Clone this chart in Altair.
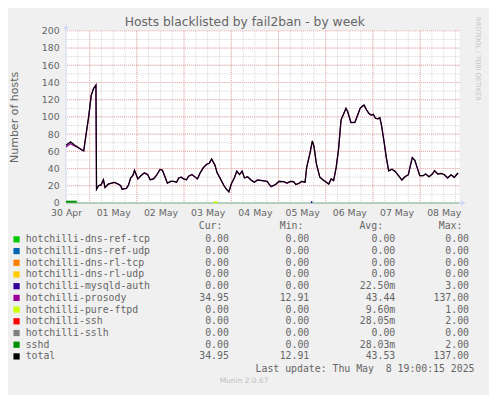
import altair as alt
import pandas as pd

# ---- data (hours since 30 Apr 00:00) ----
hours = [12, 14.3, 16, 18.5, 20.5, 21, 22.2, 23.5, 24.8, 26, 27.2, 27.5, 28.5, 29.8, 31, 31.8,
         33.5, 35.2, 36.5, 38.5, 39.8, 40.5, 42.7, 43.8, 44.8, 46, 46.8, 48.5, 50.2, 51.8, 53.5,
         54.8, 56.5, 58.2, 59.8, 61, 62.2, 63.5, 65.2, 66.8, 68.2, 69.3, 70.5, 71.8, 73.2, 74.3,
         76, 77.7, 78.8, 80.2, 81.8, 83.5, 84.8, 86, 87.7, 88.8, 90.5, 92.3, 93.5, 94.8, 96, 97.7,
         98.8, 100.2, 101.5, 102.7, 104.3, 106, 107.7, 109.3, 111.8, 114.3, 115.2, 116.3, 118.5,
         120.2, 122.7, 124.3, 126, 127.7, 128.8, 130.5, 131.8, 133.5, 134.3, 136, 137.2, 138,
         139.3, 141, 142.7, 144.3, 145.5, 146.8, 148, 149.3, 150.5, 151.8, 153.2, 154.3, 155.2,
         156.8, 158.8, 160.2, 161.5, 162.7, 163.5, 164.8, 166, 167.2, 168.2, 169.3, 170.5, 171.5,
         172.3, 173.5, 174.8, 176, 177.7, 179.3, 181, 182.7, 184.3, 186, 186.8, 188, 189.3, 190.5,
         191.8, 193.5, 194.8, 196.5, 198.2, 199.3, 201, 202.7, 204.3, 206, 207.7, 209.3, 210.5, 211.3]
total = [67, 71, 68, 64, 61, 60.5, 80, 100, 125, 133, 137, 16, 20, 21, 27, 18,
         22, 23, 24, 22, 20, 16, 17, 21, 29, 32, 38, 28, 32, 35, 33,
         27, 28, 33, 39, 38, 31, 23, 25, 25, 24, 29, 30, 28, 27, 31,
         33, 30, 28, 35, 41, 45, 46, 51, 44, 35, 28, 20, 16, 13, 22, 30,
         37, 33, 37, 29, 30.5, 26.7, 24, 26.7, 26, 25, 22, 19, 21.4,
         25, 24.8, 23, 25, 24.8, 21.4, 23, 25, 24, 41, 58, 72, 66,
         45, 30, 26.7, 24, 22, 28, 26, 41, 62, 96.6, 104, 110, 106,
         93.5, 93.5, 102, 110, 112.6, 113.7, 108, 104, 102, 103, 98.5, 97.7, 99,
         91, 73.7, 52.7, 37.4, 39.3, 36.6, 31.7, 26.7, 30.5, 32.8, 41, 52.7, 49.6, 41,
         31.7, 31.7, 33.6, 30.5, 33.6, 37.4, 33.6, 34.4, 32.8, 29, 32.8, 29.8, 32.8, 35]
prosody = [65, 69, 66.5] + total[3:]

sshd_h, sshd_v = [12, 17.5], [1.5, 1.5]
ftpd_h, ftpd_v = [87, 89], [0.8, 0.8]
mysql_h, mysql_v = [136.5, 137.2], [1, 1]

day_labels = ["30 Apr", "01 May", "02 May", "03 May", "04 May", "05 May", "06 May", "07 May", "08 May"]

names = ["hotchilli-dns-ref-tcp", "hotchilli-dns-ref-udp", "hotchilli-dns-rl-tcp", "hotchilli-dns-rl-udp",
         "hotchilli-mysqld-auth", "hotchilli-prosody", "hotchilli-pure-ftpd", "hotchilli-ssh",
         "hotchilli-sslh", "sshd", "total"]
colors = ["#00CC00", "#0066B3", "#FF8000", "#FFCC00", "#330099", "#990099", "#CCFF00", "#FF0000",
          "#808080", "#008F00", "#000000"]
cur = ["0.00", "0.00", "0.00", "0.00", "0.00", "34.95", "0.00", "0.00", "0.00", "0.00", "34.95"]
mins = ["0.00", "0.00", "0.00", "0.00", "0.00", "12.91", "0.00", "0.00", "0.00", "0.00", "12.91"]
avgs = ["0.00", "0.00", "0.00", "0.00", "22.50m", "43.44", "9.60m", "28.05m", "0.00", "28.03m", "43.53"]
maxs = ["0.00", "0.00", "0.00", "0.00", "3.00", "137.00", "1.00", "2.00", "0.00", "2.00", "137.00"]

# ---- scales ----
W, H = 400, 175
xs = alt.Scale(domain=[12, 212], nice=False, zero=False)
ys = alt.Scale(domain=[0, 200], nice=False, zero=False)
FONT = "DejaVu Sans"
MONO = "DejaVu Sans Mono"
TXT = "#666666"

grid_minor_y = pd.DataFrame({"v": list(range(10, 200, 10))})
grid_major_y = pd.DataFrame({"v": list(range(20, 201, 20))})
grid_minor_x = pd.DataFrame({"h": list(range(18, 212, 6))})
grid_major_x = pd.DataFrame({"h": list(range(24, 212, 24))})

gmy = alt.Chart(grid_minor_y).mark_rule(color="#d4d4d4", strokeDash=[1, 1], strokeWidth=1).encode(
    y=alt.Y("v:Q", scale=ys, axis=None))
gmx = alt.Chart(grid_minor_x).mark_rule(color="#d4d4d4", strokeDash=[1, 1], strokeWidth=1).encode(
    x=alt.X("h:Q", scale=xs, axis=None))
gMy = alt.Chart(grid_major_y).mark_rule(color="#f0a8a8", strokeDash=[1, 1], strokeWidth=1).encode(
    y=alt.Y("v:Q", scale=ys, axis=None))
gMx = alt.Chart(grid_major_x).mark_rule(color="#f0a8a8", strokeDash=[1, 1], strokeWidth=1).encode(
    x=alt.X("h:Q", scale=xs, axis=None))

label_expr = "[" + ",".join("'%s'" % d for d in day_labels) + "][round((datum.value-12)/24)]"

df_total = pd.DataFrame({"h": hours, "v": total})
df_pros = pd.DataFrame({"h": hours, "v": prosody})

x_axis = alt.Axis(values=[12 + 24 * i for i in range(9)], labelExpr=label_expr, grid=False, ticks=False,
                  domain=False, labelFont=FONT, labelFontSize=9.5, labelColor=TXT, labelPadding=5,
                  title=None, labelFlush=False, labelOverlap=False)
y_axis = alt.Axis(values=list(range(0, 201, 20)), grid=False, ticks=False, domain=False,
                  labelFont=FONT, labelFontSize=9.5, labelColor=TXT, labelPadding=7, labelOverlap=False,
                  title="Number of hosts", titleFont=FONT, titleFontSize=11.2, titleFontWeight="normal",
                  titleColor=TXT, titleX=-52, titleY=87.5, titleAlign="center", titleBaseline="middle",
                  titleAngle=-90)

one = pd.DataFrame({"a": [0]})
axis_line_y = alt.Chart(one).mark_rule(color="#CFD6F8", strokeWidth=1).encode(
    x=alt.value(0), y=alt.value(H), y2=alt.value(-4))
arrow_y = alt.Chart(one).mark_point(shape="triangle-up", filled=True, color="#CFD6F8",
                                    size=28, opacity=1).encode(x=alt.value(0), y=alt.value(-4))
axis_line_x = alt.Chart(one).mark_rule(color="#CFD6F8", strokeWidth=1).encode(
    x=alt.value(0), x2=alt.value(W + 4), y=alt.value(H))
arrow_x = alt.Chart(one).mark_point(shape="triangle-right", filled=True, color="#CFD6F8",
                                    size=28, opacity=1).encode(x=alt.value(W + 4), y=alt.value(H))

zero_line = alt.Chart(pd.DataFrame({"v": [0]})).mark_rule(color="#84b884", strokeWidth=1.2).encode(
    y=alt.Y("v:Q", scale=ys, axis=None))

def seg(hh, vv, col, w=1.5):
    return alt.Chart(pd.DataFrame({"h": hh, "v": vv})).mark_line(color=col, strokeWidth=w).encode(
        x=alt.X("h:Q", scale=xs, axis=None), y=alt.Y("v:Q", scale=ys, axis=None))

sshd_line = seg(sshd_h, sshd_v, "#008F00", 2)
ftpd_line = seg(ftpd_h, ftpd_v, "#CCFF00", 2)
mysql_line = seg(mysql_h, mysql_v, "#330099", 2)

pros_line = alt.Chart(df_pros).mark_line(color="#990099", strokeWidth=1.3).encode(
    x=alt.X("h:Q", scale=xs, axis=None), y=alt.Y("v:Q", scale=ys, axis=None))
total_line = alt.Chart(df_total).mark_line(color="#000000", strokeWidth=1.2).encode(
    x=alt.X("h:Q", scale=xs, axis=x_axis), y=alt.Y("v:Q", scale=ys, axis=y_axis))

# ---- texts (pixel positions relative to plot origin) ----
title = alt.Chart(pd.DataFrame({"t": ["Hosts blacklisted by fail2ban - by week"]})).mark_text(
    font=FONT, fontSize=12.5, color=TXT, align="center", baseline="middle").encode(
    text="t:N", x=alt.value(181.7), y=alt.value(-8.5))
rrd = alt.Chart(pd.DataFrame({"t": ["RRDTOOL / TOBI OETIKER"]})).mark_text(
    font=FONT, fontSize=6.6, color="#c4c4c4", align="center", baseline="middle", angle=90).encode(
    text="t:N", x=alt.value(418.5), y=alt.value(28.5))

ROW0, DY = 212.0, 11.9
leg = pd.DataFrame({"name": names, "color": colors, "cur": cur, "min": mins,
                    "avg": [a if a.endswith("m") else a + "\u00a0" for a in avgs], "max": maxs})
leg["py"] = [ROW0 + DY * i for i in range(len(names))]

sq = alt.Chart(leg).mark_square(size=40, opacity=1).encode(
    x=alt.value(-50.3), y=alt.Y("py:Q", scale=None, axis=None),
    color=alt.Color("color:N", scale=None))

def col_text(field, xpos, align):
    return alt.Chart(leg).mark_text(font=MONO, fontSize=10, color=TXT, align=align, baseline="middle").encode(
        text=f"{field}:N", x=alt.value(xpos), y=alt.Y("py:Q", scale=None, axis=None))

t_name = col_text("name", -41, "left")
t_cur = col_text("cur", 165.5, "right")
t_min = col_text("min", 247.3, "right")
t_avg = col_text("avg", 334.7, "right")
t_max = col_text("max", 409.7, "right")

hdr = pd.DataFrame({"t": ["Cur:", "Min:", "Avg:", "Max:"], "px": [159, 241.3, 322.3, 403]})
t_hdr = alt.Chart(hdr).mark_text(font=MONO, fontSize=10, color=TXT, align="right", baseline="middle").encode(
    text="t:N", x=alt.X("px:Q", scale=None, axis=None), y=alt.value(198.7))

upd = alt.Chart(pd.DataFrame({"t": ["Last update: Thu May \u00a08 19:00:15 2025"]})).mark_text(
    font=MONO, fontSize=10, color=TXT, align="right", baseline="middle").encode(
    text="t:N", x=alt.value(415.3), y=alt.value(343.7))
munin = alt.Chart(pd.DataFrame({"t": ["Munin 2.0.67"]})).mark_text(
    font=FONT, fontSize=7.6, color="#c0c0c0", align="center", baseline="middle").encode(
    text="t:N", x=alt.value(181), y=alt.value(356))

chart = alt.layer(
    gmy, gmx, gMy, gMx, axis_line_y, arrow_y, axis_line_x, arrow_x, zero_line,
    sshd_line, ftpd_line, mysql_line, pros_line, total_line,
    title, rrd, sq, t_name, t_cur, t_min, t_avg, t_max, t_hdr, upd, munin
).resolve_scale(x="independent", y="independent").properties(
    width=W, height=H,
    padding={"left": 59, "top": 20, "right": 30, "bottom": 192},
    autosize="none", background="#F0F0F0"
).configure_view(fill="white", stroke=None)

chart.save("out.html", embed_options={"renderer": "svg", "actions": False})
